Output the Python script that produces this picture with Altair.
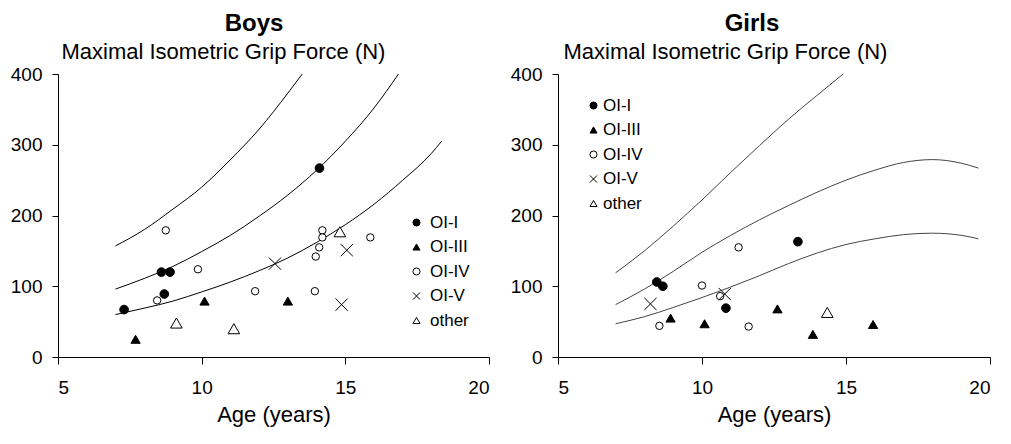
import altair as alt
import pandas as pd

FONT = "Liberation Sans"
GROUPS = ["OI-I", "OI-III", "OI-IV", "OI-V", "other"]
SHAPES = ["circle", "triangle-up", "circle", "M-1,-1L1,1M-1,1L1,-1", "triangle-up"]
FILLS = ["black", "black", "white", "transparent", "white"]
STROKES = ["black", "black", "black", "black", "black"]
SIZE_EXPR = ("datum.group === 'OI-I' ? 75 : datum.group === 'OI-III' ? 85 : "
             "datum.group === 'OI-IV' ? 55 : datum.group === 'OI-V' ? 150 : 135")

# ---- Boys data points ----
boys_oi1_age = [7.3, 8.6, 8.9, 8.7, 14.1]
boys_oi1_force = [67, 120, 120, 89, 267]
boys_oi3_age = [7.7, 10.1, 13.0]
boys_oi3_force = [25, 79, 79]
boys_oi4_age = [8.75, 8.45, 9.87, 11.86, 13.94, 13.97, 14.09, 14.2, 14.2, 15.87]
boys_oi4_force = [179, 80, 124, 93, 93, 142, 155, 179, 169, 169]
boys_oi5_age = [12.55, 15.05, 14.87]
boys_oi5_force = [132, 151, 74]
boys_other_age = [9.12, 11.12, 14.81]
boys_other_force = [48, 40, 177]

# ---- Girls data points ----
girls_oi1_age = [8.43, 8.64, 10.83, 13.33]
girls_oi1_force = [106, 100, 69, 163]
girls_oi3_age = [8.91, 10.09, 12.62, 13.85, 15.94]
girls_oi3_force = [55, 47, 68, 32, 46]
girls_oi4_age = [8.52, 10.0, 11.27, 11.62, 10.63]
girls_oi4_force = [44, 101, 155, 43, 86]
girls_oi5_age = [8.21, 10.79]
girls_oi5_force = [75, 89]
girls_other_age = [14.35]
girls_other_force = [63]

# ---- Reference curves ----
boys_upper_age = [7, 8, 9, 10, 11, 12, 13, 13.5]
boys_upper_force = [157, 180, 209, 240, 279, 322, 373, 400]
boys_mid_age = [7, 8, 9, 10, 11, 12, 13, 14, 15, 16, 16.85]
boys_mid_force = [96, 111, 128, 149, 172, 199, 229, 264, 305, 352, 400]
boys_low_age = [7, 8, 9, 10, 11, 12, 13, 14, 15, 16, 17, 18, 18.35]
boys_low_force = [60, 69, 79, 92, 106, 122, 140, 162, 187, 216, 250, 288, 305]

girls_upper_age = [7, 8, 9, 10, 11, 12, 13, 14, 14.9]
girls_upper_force = [119, 150, 185, 222, 261, 299, 336, 370, 400]
girls_mid_age = [7, 8, 9, 10, 11, 12, 13, 14, 15, 16, 17, 18, 19, 19.6]
girls_mid_force = [74, 96, 121, 148, 172, 194, 214, 233, 250, 264, 275, 279, 274, 267]
girls_low_age = [7, 8, 9, 10, 11, 12, 13, 14, 15, 16, 17, 18, 19, 19.6]
girls_low_force = [47, 57, 70, 84, 99, 115, 132, 147, 159, 167, 173, 175, 172, 167]


def points_df(groups):
    rows = []
    for g, ages, forces in groups:
        for a, f in zip(ages, forces):
            rows.append({"age": a, "force": f, "group": g})
    return pd.DataFrame(rows)


def curves_df(curves):
    rows = []
    for c, ages, forces in curves:
        for a, f in zip(ages, forces):
            rows.append({"age": a, "force": f, "curve": c})
    return pd.DataFrame(rows)


boys_pts = points_df([
    ("OI-I", boys_oi1_age, boys_oi1_force),
    ("OI-III", boys_oi3_age, boys_oi3_force),
    ("OI-IV", boys_oi4_age, boys_oi4_force),
    ("OI-V", boys_oi5_age, boys_oi5_force),
    ("other", boys_other_age, boys_other_force),
])
girls_pts = points_df([
    ("OI-I", girls_oi1_age, girls_oi1_force),
    ("OI-III", girls_oi3_age, girls_oi3_force),
    ("OI-IV", girls_oi4_age, girls_oi4_force),
    ("OI-V", girls_oi5_age, girls_oi5_force),
    ("other", girls_other_age, girls_other_force),
])
boys_cur = curves_df([
    ("upper", boys_upper_age, boys_upper_force),
    ("middle", boys_mid_age, boys_mid_force),
    ("lower", boys_low_age, boys_low_force),
])
girls_cur = curves_df([
    ("upper", girls_upper_age, girls_upper_force),
    ("middle", girls_mid_age, girls_mid_force),
    ("lower", girls_low_age, girls_low_force),
])


def panel(title, dx, pts, cur, line_color, leg_x, leg_y, label_offset, width, sub_x):
    x = alt.X(
        "age:Q",
        scale=alt.Scale(domain=[5, 20], nice=False, zero=False),
        axis=alt.Axis(
            title="Age (years)", values=[5, 10, 15, 20], tickSize=7,
            labelPadding=14, titlePadding=7, grid=False,
        ),
    )
    y = alt.Y(
        "force:Q",
        scale=alt.Scale(domain=[0, 400], nice=False),
        axis=alt.Axis(
            title="Maximal Isometric Grip Force (N)", values=[0, 100, 200, 300, 400],
            tickSize=6, labelPadding=10, grid=False,
            titleAngle=0, titleAlign="left", titleBaseline="alphabetic",
            titleX=sub_x, titleY=-16,
        ),
    )
    lines = alt.Chart(cur).mark_line(
        color=line_color, strokeWidth=1, interpolate="monotone"
    ).encode(x=x, y=y, detail="curve:N")

    legend = alt.Legend(
        title=None, orient="none", legendX=leg_x, legendY=leg_y,
        symbolSize=50, symbolStrokeColor="black", symbolStrokeWidth=1,
        labelFont=FONT, labelFontSize=17, labelColor="black",
        labelOffset=label_offset, rowPadding=6.5, padding=0,
    )
    points = alt.Chart(pts).transform_calculate(
        msize=SIZE_EXPR
    ).mark_point(
        filled=True, strokeWidth=1, opacity=1
    ).encode(
        x=x, y=y,
        shape=alt.Shape("group:N", scale=alt.Scale(domain=GROUPS, range=SHAPES), legend=legend),
        fill=alt.Fill("group:N", scale=alt.Scale(domain=GROUPS, range=FILLS), legend=legend),
        stroke=alt.Stroke("group:N", scale=alt.Scale(domain=GROUPS, range=STROKES), legend=legend),
        size=alt.Size("msize:Q", scale=None),
    )
    return alt.layer(lines, points).properties(
        width=width, height=283,
        title=alt.TitleParams(
            title, anchor="start", frame="group", align="center", dx=dx,
            fontSize=24, fontWeight="bold", font=FONT, color="black",
        ),
    )


boys = panel("Boys", 196, boys_pts, boys_cur, "black", 350, 140, 5, 431, 3)
girls = panel("Girls", 194, girls_pts, girls_cur, "#444444", 27, 23, 1, 432, 5)

chart = alt.hconcat(boys, girls, spacing=20).resolve_scale(
    shape="independent", fill="independent", stroke="independent"
).resolve_legend(
    shape="independent", fill="independent", stroke="independent"
).properties(
    padding={"left": 2, "top": 4, "right": 0, "bottom": 4}
).configure(font=FONT).configure_view(stroke=None).configure_axis(
    labelFont=FONT, labelFontSize=19, labelColor="black",
    titleFont=FONT, titleFontSize=22, titleFontWeight="normal", titleColor="black",
    domainColor="black", tickColor="black", domainWidth=1, tickWidth=1,
)

chart.save("out.html", embed_options={"renderer": "svg", "actions": False})
